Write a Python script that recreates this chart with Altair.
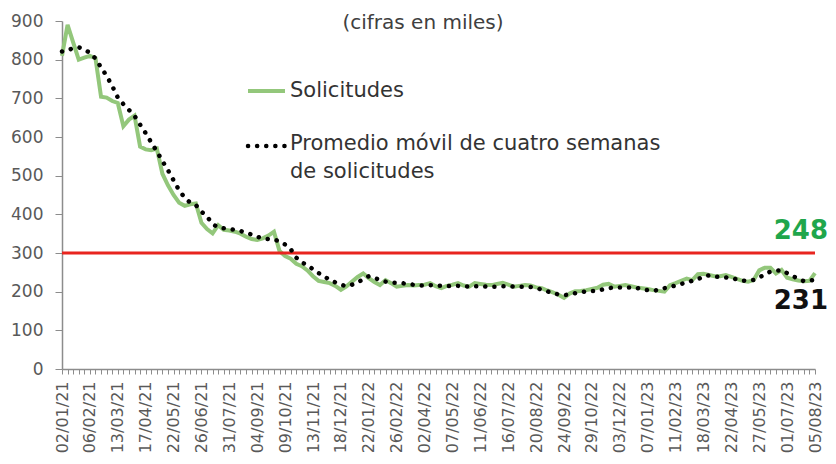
import json
import altair as alt
import pandas as pd

# Semanas (sábado de cierre), 02/01/21 ... 05/08/23
fechas = pd.date_range("2021-01-02", periods=136, freq="7D").strftime("%d/%m/%y").tolist()
etiquetas = fechas[::5]

solicitudes = [
    810, 890, 845, 800, 805, 810, 804, 704, 702, 693,
    688, 628, 645, 655, 575, 568, 566, 570, 505, 475,
    450, 430, 422, 426, 428, 378, 362, 351, 372, 360,
    358, 355, 350, 342, 336, 334, 338, 345, 355, 305,
    292, 285, 272, 266, 255, 240, 228, 225, 222, 215,
    205, 214, 226, 238, 247, 235, 225, 217, 230, 222,
    213, 215, 217, 216, 217, 218, 222, 214, 209, 215,
    218, 222, 216, 213, 222, 220, 218, 217, 220, 223,
    218, 213, 215, 217, 216, 211, 209, 203, 198, 192,
    184, 195, 201, 202, 204, 207, 210, 218, 220, 213,
    215, 217, 214, 211, 209, 207, 204, 202, 200, 217,
    222, 228, 234, 230, 245, 246, 243, 240, 240, 243,
    238, 233, 228, 226, 230, 255, 262, 262, 247, 256,
    236, 232, 229, 227, 228, 248,
]

promedio = [
    821, 824, 830, 832, 826, 818, 803, 780, 758, 732,
    702, 685, 670, 655, 632, 610, 586, 563, 538, 514,
    488, 462, 443, 430, 424, 407, 394, 375, 366, 364,
    362, 360, 357, 352, 348, 342, 338, 336, 335, 330,
    322, 310, 288, 276, 268, 258, 248, 240, 230, 224,
    218, 214, 218, 224, 232, 240, 236, 230, 226, 223,
    223, 222, 220, 218, 216, 216, 217, 216, 215, 214,
    215, 215, 214, 213, 214, 214, 213, 213, 213, 214,
    214, 213, 213, 213, 212, 210, 205, 201, 196, 193,
    191, 193, 196, 198, 201, 202, 202, 206, 209, 211,
    211, 211, 211, 210, 206, 204, 202, 205, 209, 212,
    216, 220, 224, 228, 232, 240, 242, 239, 238, 237,
    235, 232, 228, 229, 230, 237, 244, 252, 254, 256,
    248, 240, 234, 227, 228, 231,
]

umbral = [300]
marcas_y = [0, 100, 200, 300, 400, 500, 600, 700, 800, 900]

FONT = "DejaVu Sans"
GREEN = "#93c77b"
RED = "#e8251f"
AXIS_GRAY = "#8c8c8c"
LABEL_GRAY = "#595959"

df = pd.DataFrame({"fecha": fechas, "solicitudes": solicitudes, "promedio": promedio})
ultimo = pd.DataFrame({
    "fecha": [fechas[-1], fechas[-1]],
    "valor": [solicitudes[-1], promedio[-1]],
    "serie": ["sol", "prom"],
})

label_expr = "indexof(" + json.dumps(etiquetas) + ", datum.value) >= 0 ? datum.value : ''"

x_enc = alt.X(
    "fecha:O",
    sort=None,
    scale=alt.Scale(type="point", padding=0),
    axis=alt.Axis(
        title=None,
        labelAngle=-90,
        labelExpr=label_expr,
        labelOverlap=False,
        labelFont=FONT,
        labelFontSize=16,
        labelColor=LABEL_GRAY,
        labelPadding=7,
        tickSize=5,
        tickColor=AXIS_GRAY,
        domainColor=AXIS_GRAY,
        domainWidth=1.5,
        grid=False,
    ),
)

y_scale = alt.Scale(domain=[0, 900], nice=False)
y_axis = alt.Axis(
    title=None,
    values=marcas_y,
    labelOverlap=False,
    labelFlush=False,
    labelFont=FONT,
    labelFontSize=17,
    labelColor=LABEL_GRAY,
    labelPadding=12,
    tickSize=7,
    tickColor=AXIS_GRAY,
    domainColor=AXIS_GRAY,
    domainWidth=1.5,
    grid=False,
)


def y_enc(campo):
    return alt.Y(campo, scale=y_scale, axis=y_axis)


base = alt.Chart(df)

linea = base.mark_line(color=GREEN, strokeWidth=4).encode(
    x=x_enc, y=y_enc("solicitudes:Q"),
)

regla = alt.Chart(pd.DataFrame({"umbral": umbral})).mark_rule(
    color=RED, strokeWidth=3
).encode(y=y_enc("umbral:Q"))

punteada = base.mark_line(
    color="black", strokeWidth=4.5, strokeDash=[0.1, 9], strokeCap="round"
).encode(x=x_enc, y=y_enc("promedio:Q"))

txt_sol = alt.Chart(ultimo[ultimo.serie == "sol"]).mark_text(
    align="right", baseline="middle", dx=13, dy=-42,
    font=FONT, fontSize=26, fontWeight="bold", color="#1fa64c",
).encode(x=x_enc, y=y_enc("valor:Q"), text=alt.Text("valor:Q"))

txt_prom = alt.Chart(ultimo[ultimo.serie == "prom"]).mark_text(
    align="right", baseline="middle", dx=13, dy=21,
    font=FONT, fontSize=26, fontWeight="bold", color="#111111",
).encode(x=x_enc, y=y_enc("valor:Q"), text=alt.Text("valor:Q"))

# Título y leyenda
ley = alt.Chart(pd.DataFrame({"k": [0]}))
titulo = ley.mark_text(
    align="center", baseline="middle", font=FONT, fontSize=20, color="#404040"
).encode(x=alt.value(361), y=alt.value(2), text=alt.value("(cifras en miles)"))
ley_l1 = ley.mark_rule(color=GREEN, strokeWidth=4).encode(
    x=alt.value(186), x2=alt.value(223), y=alt.value(70)
)
ley_t1 = ley.mark_text(
    align="left", baseline="middle", font=FONT, fontSize=21, color="#333333"
).encode(x=alt.value(228), y=alt.value(70), text=alt.value("Solicitudes"))
ley_l2 = ley.mark_rule(
    color="black", strokeWidth=4.5, strokeDash=[0.1, 9], strokeCap="round"
).encode(x=alt.value(186), x2=alt.value(223), y=alt.value(125))
ley_t2 = ley.mark_text(
    align="left", baseline="middle", font=FONT, fontSize=21, color="#333333"
).encode(x=alt.value(228), y=alt.value(123), text=alt.value("Promedio móvil de cuatro semanas"))
ley_t3 = ley.mark_text(
    align="left", baseline="middle", font=FONT, fontSize=21, color="#333333"
).encode(x=alt.value(228), y=alt.value(151), text=alt.value("de solicitudes"))

chart = alt.layer(
    linea, regla, punteada, txt_sol, txt_prom,
    titulo, ley_l1, ley_t1, ley_l2, ley_t2, ley_t3,
).properties(
    width=753,
    height=348,
    autosize=alt.AutoSizeParams(type="none"),
    padding={"left": 54, "top": 13, "right": 13, "bottom": 87},
    background="white",
).configure_view(stroke=None)

chart.save("out.html", embed_options={"renderer": "svg", "actions": False})
